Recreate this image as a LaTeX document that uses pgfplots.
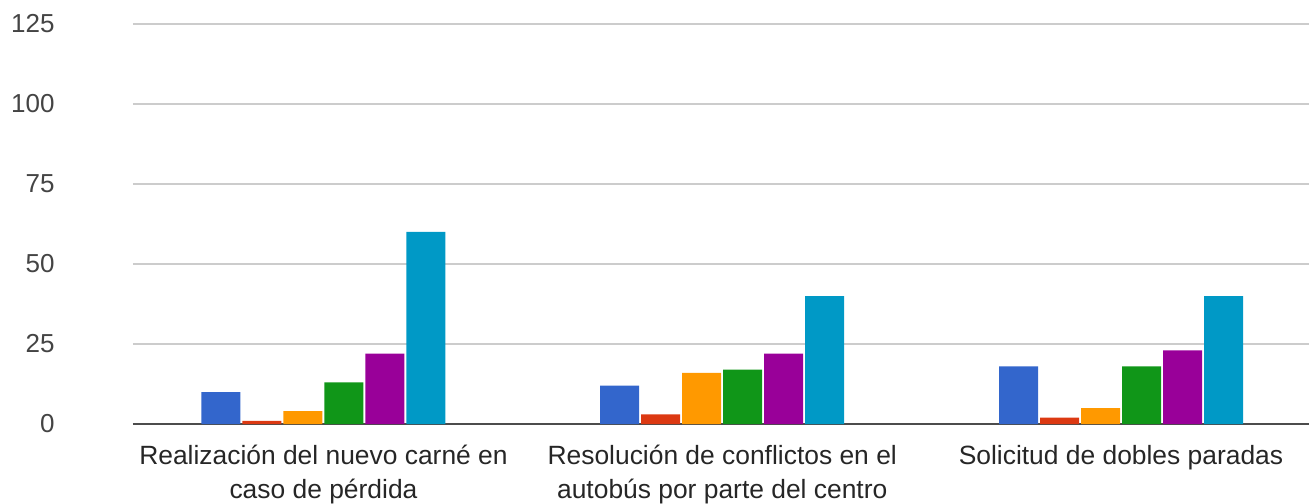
\documentclass[border=0pt]{standalone}
\usepackage{pgfplots}
\pgfplotsset{compat=1.18}
\usepackage{pgfplotstable}
\usepackage{fontspec}
\setmainfont{Liberation Sans}

\definecolor{gblue}{HTML}{3366CC}
\definecolor{gred}{HTML}{DC3912}
\definecolor{gorange}{HTML}{FF9900}
\definecolor{ggreen}{HTML}{109618}
\definecolor{gpurple}{HTML}{990099}
\definecolor{gcyan}{HTML}{0099C6}
\definecolor{gridgray}{HTML}{CCCCCC}
\definecolor{labelgray}{HTML}{444444}

% one row per category, one column per response option
\pgfplotstableread{
x  a  b  c  d  e  f
0 10  1  4 13 22 60
1 12  3 16 17 22 40
2 18  2  5 18 23 40
}\datatable

\begin{document}
\begin{tikzpicture}
\begin{axis}[
  name=ax,
  scale only axis,
  width=588pt, height=200pt,
  xmin=-0.4777, xmax=2.4715,
  ymin=0, ymax=125,
  ytick={0,25,50,75,100,125},
  xtick={0,1,2},
  xticklabels={{Realización del nuevo carné en\\caso de pérdida},
               {Resolución de conflictos en el\\autobús por parte del centro},
               {Solicitud de dobles paradas}},
  axis line style={draw=none},
  major tick length=0pt,
  ymajorgrids,
  grid style={gridgray, line width=0.75pt},
  extra y ticks={0},
  extra y tick labels={},
  extra y tick style={grid style={black!70, line width=1.1pt}},
  /pgf/number format/assume math mode=true,
  yticklabel style={anchor=east, inner sep=0pt, xshift=-39pt, text=labelgray,
                    font=\fontsize{13}{15}\selectfont},
  xticklabel style={align=center, anchor=north, inner sep=0pt, yshift=-10.5pt,
                    text=black!85, font=\fontsize{13.2}{16.7}\selectfont},
  ybar=1pt,
  bar width=19.5pt,
  clip=false,
]
\addplot[fill=gblue, draw=none] table[x=x, y=a] {\datatable};
\addplot[fill=gred, draw=none] table[x=x, y=b] {\datatable};
\addplot[fill=gorange, draw=none] table[x=x, y=c] {\datatable};
\addplot[fill=ggreen, draw=none] table[x=x, y=d] {\datatable};
\addplot[fill=gpurple, draw=none] table[x=x, y=e] {\datatable};
\addplot[fill=gcyan, draw=none] table[x=x, y=f] {\datatable};
\end{axis}
\pgfresetboundingbox
\path (ax.south west) ++(-66.5pt,-39.5pt) rectangle ++(654.5pt,251.5pt);
\end{tikzpicture}
\end{document}
